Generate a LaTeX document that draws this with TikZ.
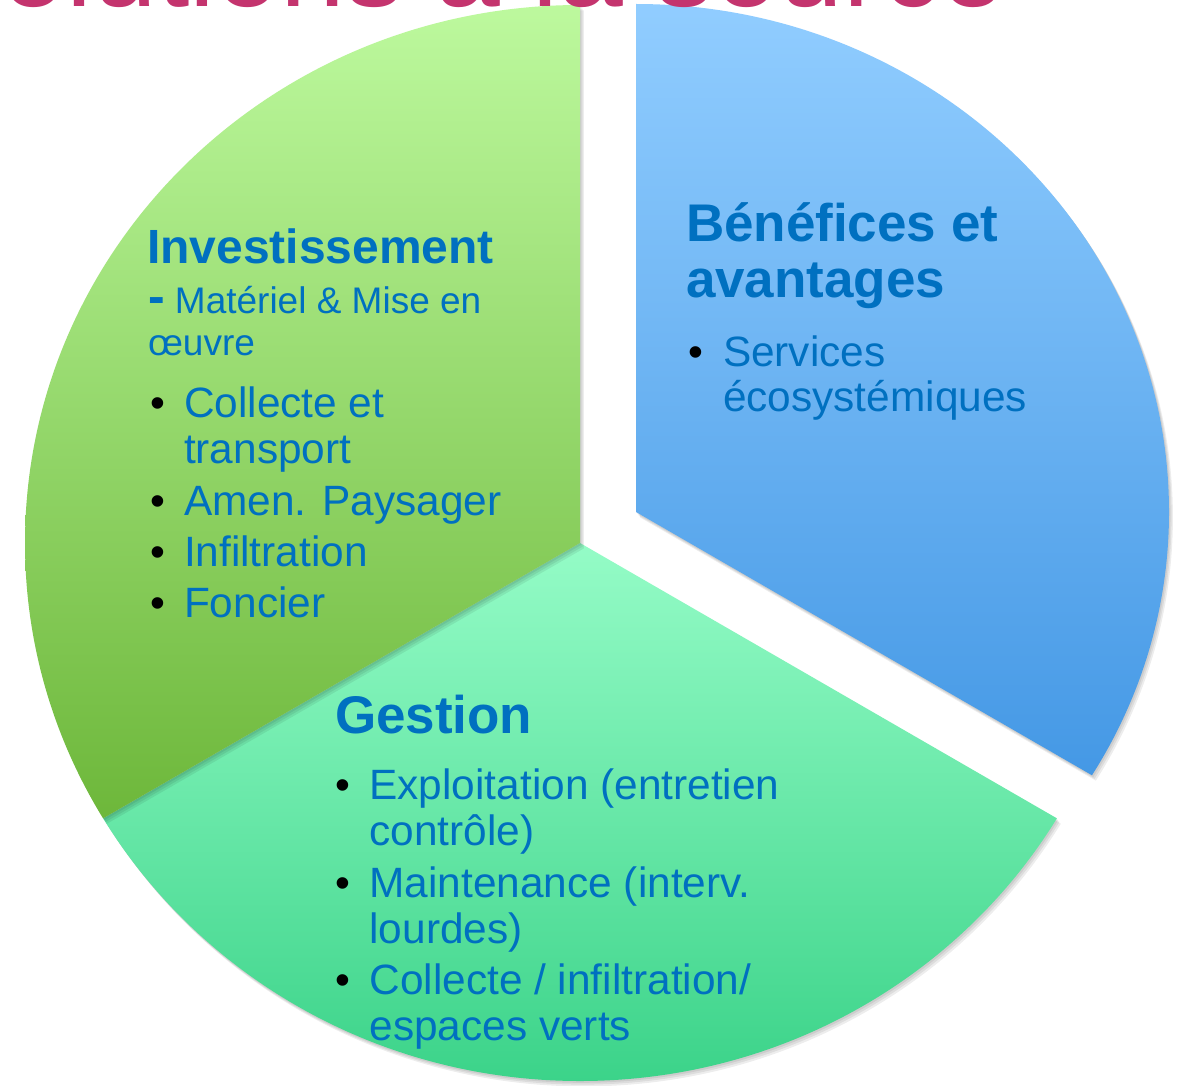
\documentclass[tikz,border=0pt]{standalone}
\usepackage{fontspec}
\setmainfont{Liberation Sans}[Ligatures=NoCommon]
\definecolor{txtblue}{HTML}{0070C0}
\definecolor{titlec}{HTML}{C4346E}
\definecolor{greenTop}{HTML}{BDF99E}
\definecolor{greenMid}{HTML}{A0E07F}
\definecolor{greenBot}{HTML}{6DB73A}
\definecolor{mintTop}{HTML}{95FCC7}
\definecolor{mintMid}{HTML}{6FE8A8}
\definecolor{mintBot}{HTML}{3BD389}
\definecolor{blueTop}{HTML}{91CDFF}
\definecolor{blueMid}{HTML}{7ABBF5}
\definecolor{blueBot}{HTML}{4498E5}
% #1 cx, #2 cy, #3 rx, #4 ry, #5 start angle, #6 end angle
\newcommand{\myPieClip}[6]{%
  \clip (#1,#2) -- +(#5:1800) -- +({(#5+#6)/2}:1800) -- +(#6:1800) -- cycle;
  \clip (#1,#2) ellipse [x radius=#3, y radius=#4];
}
\newcommand{\myPieShadow}[6]{%
  \foreach \k in {1,2,3}{%
    \begin{scope}[shift={(1.3*\k,-1.8*\k)}]
      \myPieClip{#1}{#2}{#3}{#4}{#5}{#6}
      \fill[black, opacity=0.07] (-100,100) rectangle (1300,-1200);
    \end{scope}}%
}
\begin{document}
\begin{tikzpicture}[x=1pt,y=1pt,
  txt/.style={anchor=base west, inner sep=0pt, outer sep=0pt, text=txtblue,
              font=\fontsize{42.4}{42.4}\selectfont},
  hd/.style={txt, font=\fontsize{53}{53}\selectfont\bfseries},
  bul/.style={anchor=base west, inner sep=0pt, outer sep=0pt, text=black,
              font=\fontsize{42.4}{42.4}\selectfont}]
\useasboundingbox (0,0) rectangle (1177,-1086);
\clip (0,0) rectangle (1177,-1086);
\fill[white] (0,0) rectangle (1177,-1086);

% Gestion sector (mint)
\myPieShadow{580}{-543}{555}{538}{210}{330}
\begin{scope}
  \myPieClip{580}{-543}{555}{538}{210}{330}
  \shade[top color=mintTop, middle color=mintMid, bottom color=mintBot]
    (90,-540) rectangle (1070,-1084);
\end{scope}

% Investissement sector (green)
\myPieShadow{580}{-543}{555}{538}{90}{210}
\begin{scope}
  \myPieClip{580}{-543}{555}{538}{90}{210}
  \shade[top color=greenTop, middle color=greenMid, bottom color=greenBot]
    (20,-3) rectangle (582,-822);
\end{scope}

% Benefices sector (blue, exploded)
\myPieShadow{636}{-512}{533}{508}{-30}{90}
\begin{scope}
  \myPieClip{636}{-512}{533}{508}{-30}{90}
  \shade[top color=blueTop, middle color=blueMid, bottom color=blueBot]
    (634,-2) rectangle (1172,-780);
\end{scope}

% Title (cropped by the top edge, as in the reference)
\node[anchor=base west, inner sep=0pt, text=titlec,
      font=\fontsize{116.5}{116.5}\selectfont] (title) at (-76,-6.5) {Solutions à la source};

% Investissement text
\node[hd, font=\fontsize{48}{48}\selectfont\bfseries] (inv) at (147,-263) {Investissement};
\node[txt, font=\fontsize{37}{37}\selectfont] (mat) at (148,-313)
  {{\fontsize{50}{50}\selectfont\bfseries -} Matériel \& Mise en};
\node[txt, font=\fontsize{37}{37}\selectfont] (oeuvre) at (148,-355) {œuvre};
\node[bul] (ib1) at (150,-417) {•};
\node[txt] (it1) at (184,-417) {Collecte et};
\node[txt] (it1b) at (184,-463) {transport};
\node[bul] (ib2) at (150,-515) {•};
\node[txt] (it2) at (184,-515) {Amen. Paysager};
\node[bul] (ib3) at (150,-566) {•};
\node[txt] (it3) at (184,-566) {Infiltration};
\node[bul] (ib4) at (150,-617) {•};
\node[txt] (it4) at (184,-617) {Foncier};

% Gestion text
\node[hd] (ges) at (335,-733) {Gestion};
\node[bul] (gb1) at (335,-799) {•};
\node[txt] (gt1) at (369.5,-799) {Exploitation (entretien};
\node[txt] (gt1b) at (369.5,-845) {contrôle)};
\node[bul] (gb2) at (335,-897) {•};
\node[txt] (gt2) at (369.5,-897) {Maintenance (interv.};
\node[txt] (gt2b) at (369.5,-943) {lourdes)};
\node[bul] (gb3) at (335,-994) {•};
\node[txt] (gt3) at (369.5,-994) {Collecte / infiltration/};
\node[txt] (gt3b) at (369.5,-1040) {espaces verts};

% Benefices text
\node[hd] (ben1) at (686,-241) {Bénéfices et};
\node[hd] (ben2) at (686,-297) {avantages};
\node[bul] (bb1) at (688,-366) {•};
\node[txt] (bt1) at (723,-366) {Services};
\node[txt] (bt1b) at (723,-411) {écosystémiques};
\end{tikzpicture}
\end{document}
